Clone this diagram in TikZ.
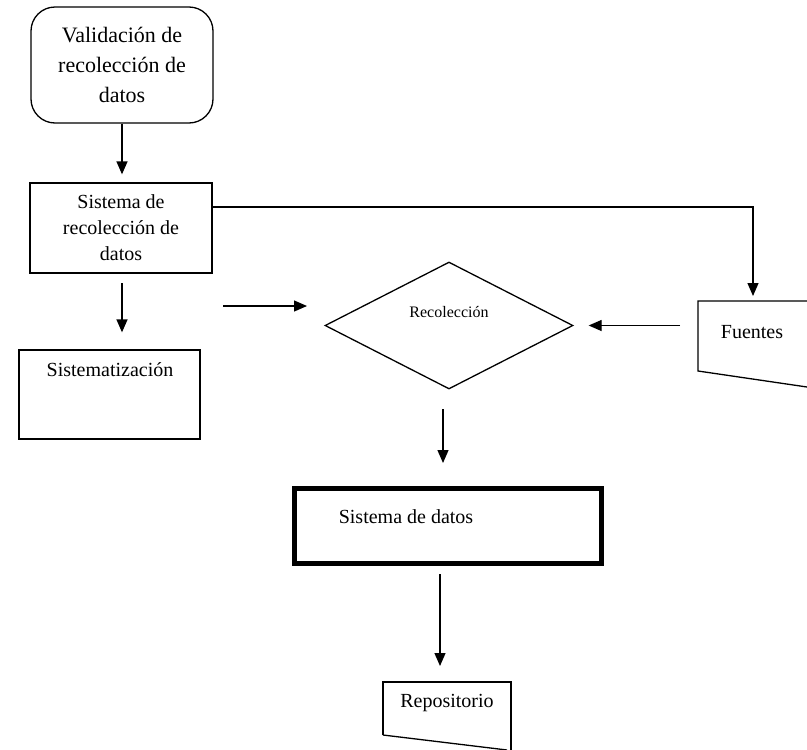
\documentclass[tikz,border=0pt]{standalone}
\usepackage{fontspec}
\setmainfont{Liberation Serif}
\usetikzlibrary{arrows.meta,shapes.geometric}
\begin{document}
\begin{tikzpicture}[x=1pt,y=-1pt,
  line/.style={line width=1.3pt, draw=black},
  arr/.style={line, -{Triangle[length=13pt,width=11pt]}},
  box/.style={line, rectangle, inner sep=0pt},
  txt/.style={font=\fontsize{20}{26}\selectfont, inner sep=0pt, align=center}
]
\useasboundingbox (0,0) rectangle (807,750);

% nodes
\node[box, rounded corners=24pt, minimum width=182pt, minimum height=116pt,
      font=\fontsize{22}{30}\selectfont, align=center] (val) at (122,65)
      {Validación de\\recolección de\\datos};
\node[box, minimum width=182pt, minimum height=90pt, txt] (sys) at (121,228)
      {Sistema de\\recolección de\\datos};
\node[box, minimum width=181pt, minimum height=89pt] (sist) at (109.5,394.5) {};
\node[txt] (sistT) at (110,370) {Sistematización};
\node[line, diamond, minimum width=248pt, minimum height=127pt, inner sep=0pt] (rec) at (449,325.5) {};
\node[txt, font=\fontsize{16}{20}\selectfont] (recT) at (449,312) {Recolección};
\node[rectangle, draw=black, line width=5pt, minimum width=307pt, minimum height=75pt] (sd) at (448,526) {};
\node[txt] (sdT) at (406,517) {Sistema de datos};

% Fuentes (document shape, cut by the right edge)
\coordinate (fu) at (698,301);
\coordinate (fuB) at (698,371);
\draw[line] (807,301) -- (fu) -- (fuB) -- (807,387);
\node[txt] (fuT) at (752,332) {Fuentes};
\coordinate (fuTop) at (753,301);

% Repositorio (document shape, cut by the bottom edge)
\coordinate (re) at (383,682);
\coordinate (reB) at (383,735);
\draw[line] (reB) -- (re) -- (511,682) -- (511,750);
\draw[line] (reB) -- (507,750);
\node[txt] (reT) at (447,703) {Repositorio};

% connectors
\draw[arr, shorten >=8pt] (val.south) -- (val.south |- sys.north);
\draw[arr, shorten <=10pt, shorten >=17pt] (122,273) coordinate (s1) -- (s1 |- sist.north);
\draw[arr, shorten >=5pt] (sys.east |- 0,207) -- (753,207) -- (fuTop);
\coordinate (inL) at (223,306);
\draw[arr] (inL) -- (307,306) coordinate (inR);
\draw[arr, shorten <=18pt, shorten >=15pt] (fuB |- rec.east) -- (rec.east);
\draw[arr, shorten <=20pt, shorten >=23pt] (443,389) coordinate (r1) -- (r1 |- sd.north);
\draw[arr, shorten <=8pt, shorten >=16pt] (440,566) coordinate (d1) -- (d1 |- re);
\end{tikzpicture}
\end{document}
